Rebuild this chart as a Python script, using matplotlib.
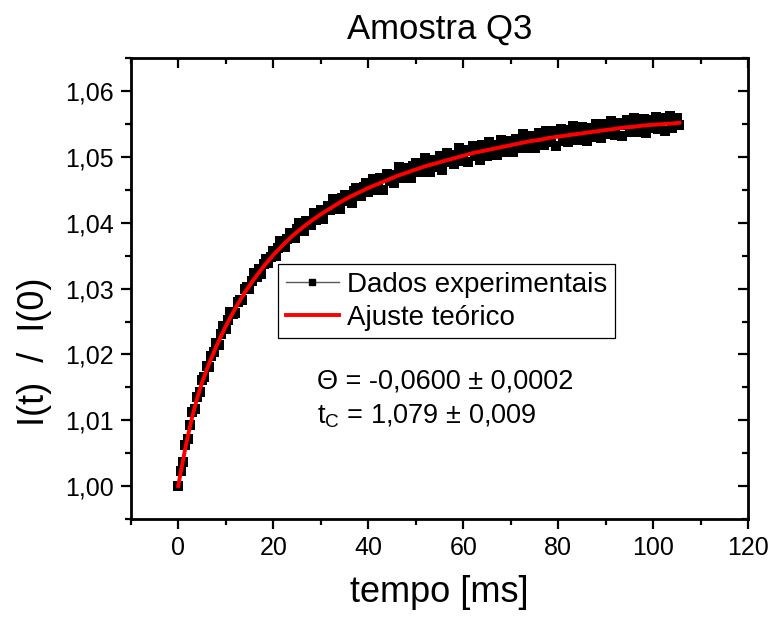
import numpy as np
import matplotlib
matplotlib.use("Agg")
import matplotlib.pyplot as plt
from matplotlib.lines import Line2D
from matplotlib.ticker import MultipleLocator, FuncFormatter

plt.rcParams['font.family'] = ['Liberation Sans', 'DejaVu Sans']
plt.rcParams['mathtext.fontset'] = 'custom'
plt.rcParams['mathtext.rm'] = 'Liberation Sans'

# measurement times [ms], one sample every 0.5 ms
tempo = np.arange(0, 106, 0.5)

# I(t)/I(0), 10 samples per row (5 ms)
dados = [
    1.0000, 1.0023, 1.0037, 1.0062, 1.0072, 1.0093, 1.0112, 1.0117, 1.0135, 1.0143,
    1.0161, 1.0165, 1.0183, 1.0181, 1.0197, 1.0203, 1.0217, 1.0214, 1.0231, 1.0243,
    1.0239, 1.0252, 1.0265, 1.0261, 1.0263, 1.0280, 1.0283, 1.0283, 1.0300, 1.0302,
    1.0299, 1.0312, 1.0324, 1.0318, 1.0330, 1.0322, 1.0337, 1.0345, 1.0339, 1.0348,
    1.0357, 1.0350, 1.0362, 1.0373, 1.0363, 1.0363, 1.0375, 1.0385, 1.0379, 1.0377,
    1.0390, 1.0400, 1.0390, 1.0387, 1.0403, 1.0403, 1.0397, 1.0415, 1.0404, 1.0413,
    1.0420, 1.0406, 1.0419, 1.0426, 1.0419, 1.0436, 1.0422, 1.0432, 1.0421, 1.0437,
    1.0443, 1.0433, 1.0441, 1.0430, 1.0449, 1.0453, 1.0444, 1.0441, 1.0455, 1.0461,
    1.0447, 1.0458, 1.0467, 1.0450, 1.0460, 1.0468, 1.0450, 1.0468, 1.0474, 1.0464,
    1.0473, 1.0461, 1.0473, 1.0485, 1.0470, 1.0468, 1.0484, 1.0478, 1.0468, 1.0486,
    1.0491, 1.0477, 1.0487, 1.0477, 1.0498, 1.0485, 1.0478, 1.0496, 1.0494, 1.0485,
    1.0501, 1.0481, 1.0496, 1.0506, 1.0492, 1.0503, 1.0489, 1.0502, 1.0513, 1.0494,
    1.0499, 1.0511, 1.0493, 1.0510, 1.0516, 1.0501, 1.0509, 1.0495, 1.0518, 1.0514,
    1.0502, 1.0523, 1.0509, 1.0519, 1.0503, 1.0515, 1.0526, 1.0511, 1.0507, 1.0524,
    1.0521, 1.0507, 1.0528, 1.0525, 1.0514, 1.0535, 1.0520, 1.0514, 1.0532, 1.0526,
    1.0514, 1.0532, 1.0536, 1.0523, 1.0519, 1.0540, 1.0532, 1.0523, 1.0539, 1.0517,
    1.0536, 1.0542, 1.0525, 1.0534, 1.0523, 1.0541, 1.0547, 1.0529, 1.0526, 1.0539,
    1.0546, 1.0533, 1.0525, 1.0544, 1.0540, 1.0530, 1.0550, 1.0545, 1.0529, 1.0543,
    1.0550, 1.0535, 1.0554, 1.0540, 1.0533, 1.0548, 1.0552, 1.0532, 1.0549, 1.0556,
    1.0538, 1.0548, 1.0559, 1.0538, 1.0553, 1.0543, 1.0558, 1.0537, 1.0551, 1.0557,
    1.0544, 1.0561, 1.0542, 1.0554, 1.0559, 1.0540, 1.0557, 1.0562, 1.0544, 1.0553,
    1.0560, 1.0549,
]

# theoretical fit curve
ajuste_t = [0, 0.5, 1, 1.5, 2, 3, 4, 5, 6, 7, 8,
            10, 12, 14, 16, 18, 20, 22, 24, 26, 28, 30, 32, 34, 36, 38, 40,
            42, 44, 46, 48, 50, 52, 54, 56, 58, 60, 62, 64, 66, 68, 70, 72,
            74, 76, 78, 80, 82, 84, 86, 88, 90, 92, 94, 96, 98, 100, 102, 104,
            105.5]
ajuste_v = [1.0000, 1.0020, 1.0039, 1.0058, 1.0075, 1.0107, 1.0134, 1.0157,
            1.0177, 1.0195, 1.0212,
            1.0243, 1.0270, 1.0294, 1.0315, 1.0334, 1.0351, 1.0366, 1.0380,
            1.0392, 1.0403, 1.0413, 1.0422, 1.0431, 1.0439, 1.0446, 1.0453,
            1.0459, 1.0465, 1.0471, 1.0476, 1.0481, 1.0486, 1.0490, 1.0494,
            1.0498, 1.0502, 1.0506, 1.0509, 1.0512, 1.0515, 1.0518, 1.0521,
            1.0524, 1.0526, 1.0529, 1.0531, 1.0533, 1.0535, 1.0537, 1.0539,
            1.0541, 1.0543, 1.0545, 1.0546, 1.0548, 1.0549, 1.0550, 1.0551,
            1.0552]

fig = plt.figure(figsize=(7.74, 6.21), dpi=100)
ax = fig.add_axes([0.1689, 0.1643, 0.7979, 0.7418])

ax.plot(tempo, dados, 's', color='black', ms=6.5, mew=0, zorder=2)
ax.plot(ajuste_t, ajuste_v, '-', color='#ff0000', lw=2.8, zorder=3)

ax.set_xlim(-10, 120)
ax.set_ylim(0.995, 1.065)

comma = FuncFormatter(lambda v, p: f"{v:.2f}".replace('.', ','))
ax.xaxis.set_major_locator(MultipleLocator(20))
ax.xaxis.set_minor_locator(MultipleLocator(10))
ax.yaxis.set_major_locator(MultipleLocator(0.01))
ax.yaxis.set_minor_locator(MultipleLocator(0.005))
ax.yaxis.set_major_formatter(comma)

for s in ax.spines.values():
    s.set_linewidth(2)
ax.tick_params(which='both', direction='out', width=1.6, labelsize=18, pad=5)
ax.tick_params(which='major', length=7)
ax.tick_params(which='minor', length=4.5)

# mirrored axes with inward ticks (top and right)
top = ax.secondary_xaxis('top')
top.xaxis.set_major_locator(MultipleLocator(20))
top.xaxis.set_minor_locator(MultipleLocator(10))
top.tick_params(which='both', direction='in', width=1.6, labeltop=False)
top.tick_params(which='major', length=7)
top.tick_params(which='minor', length=4.5)
right = ax.secondary_yaxis('right')
right.yaxis.set_major_locator(MultipleLocator(0.01))
right.yaxis.set_minor_locator(MultipleLocator(0.005))
right.tick_params(which='both', direction='in', width=1.6, labelright=False)
right.tick_params(which='major', length=7)
right.tick_params(which='minor', length=4.5)

ax.set_title('Amostra Q3', fontsize=25, pad=14)
ax.set_xlabel('tempo [ms]', fontsize=26, labelpad=11)
ax.set_ylabel('I(t)  /  I(0)', fontsize=26)
ax.yaxis.set_label_coords(-0.128, 0.3625)

handles = [
    Line2D([], [], color='0.35', lw=1, marker='s', ms=5, mfc='black', mec='black'),
    Line2D([], [], color='#ff0000', lw=2.8),
]
leg = ax.legend(handles, ['Dados experimentais', 'Ajuste teórico'],
                loc='upper left', bbox_to_anchor=(0.239, 0.5535),
                borderaxespad=0, fontsize=20, fancybox=False, framealpha=1,
                edgecolor='black', handlelength=1.9, handletextpad=0.3,
                labelspacing=0.25, borderpad=0.28)
leg.get_frame().set_linewidth(0.9)

ax.text(0.301, 0.298, 'Θ = -0,0600 ± 0,0002', transform=ax.transAxes,
        va='center', ha='left', fontsize=19.5)
ax.text(0.301, 0.222, r't$_\mathregular{C}$ = 1,079 ± 0,009', transform=ax.transAxes,
        va='center', ha='left', fontsize=19.5)

fig.savefig('out.png', dpi=100)
